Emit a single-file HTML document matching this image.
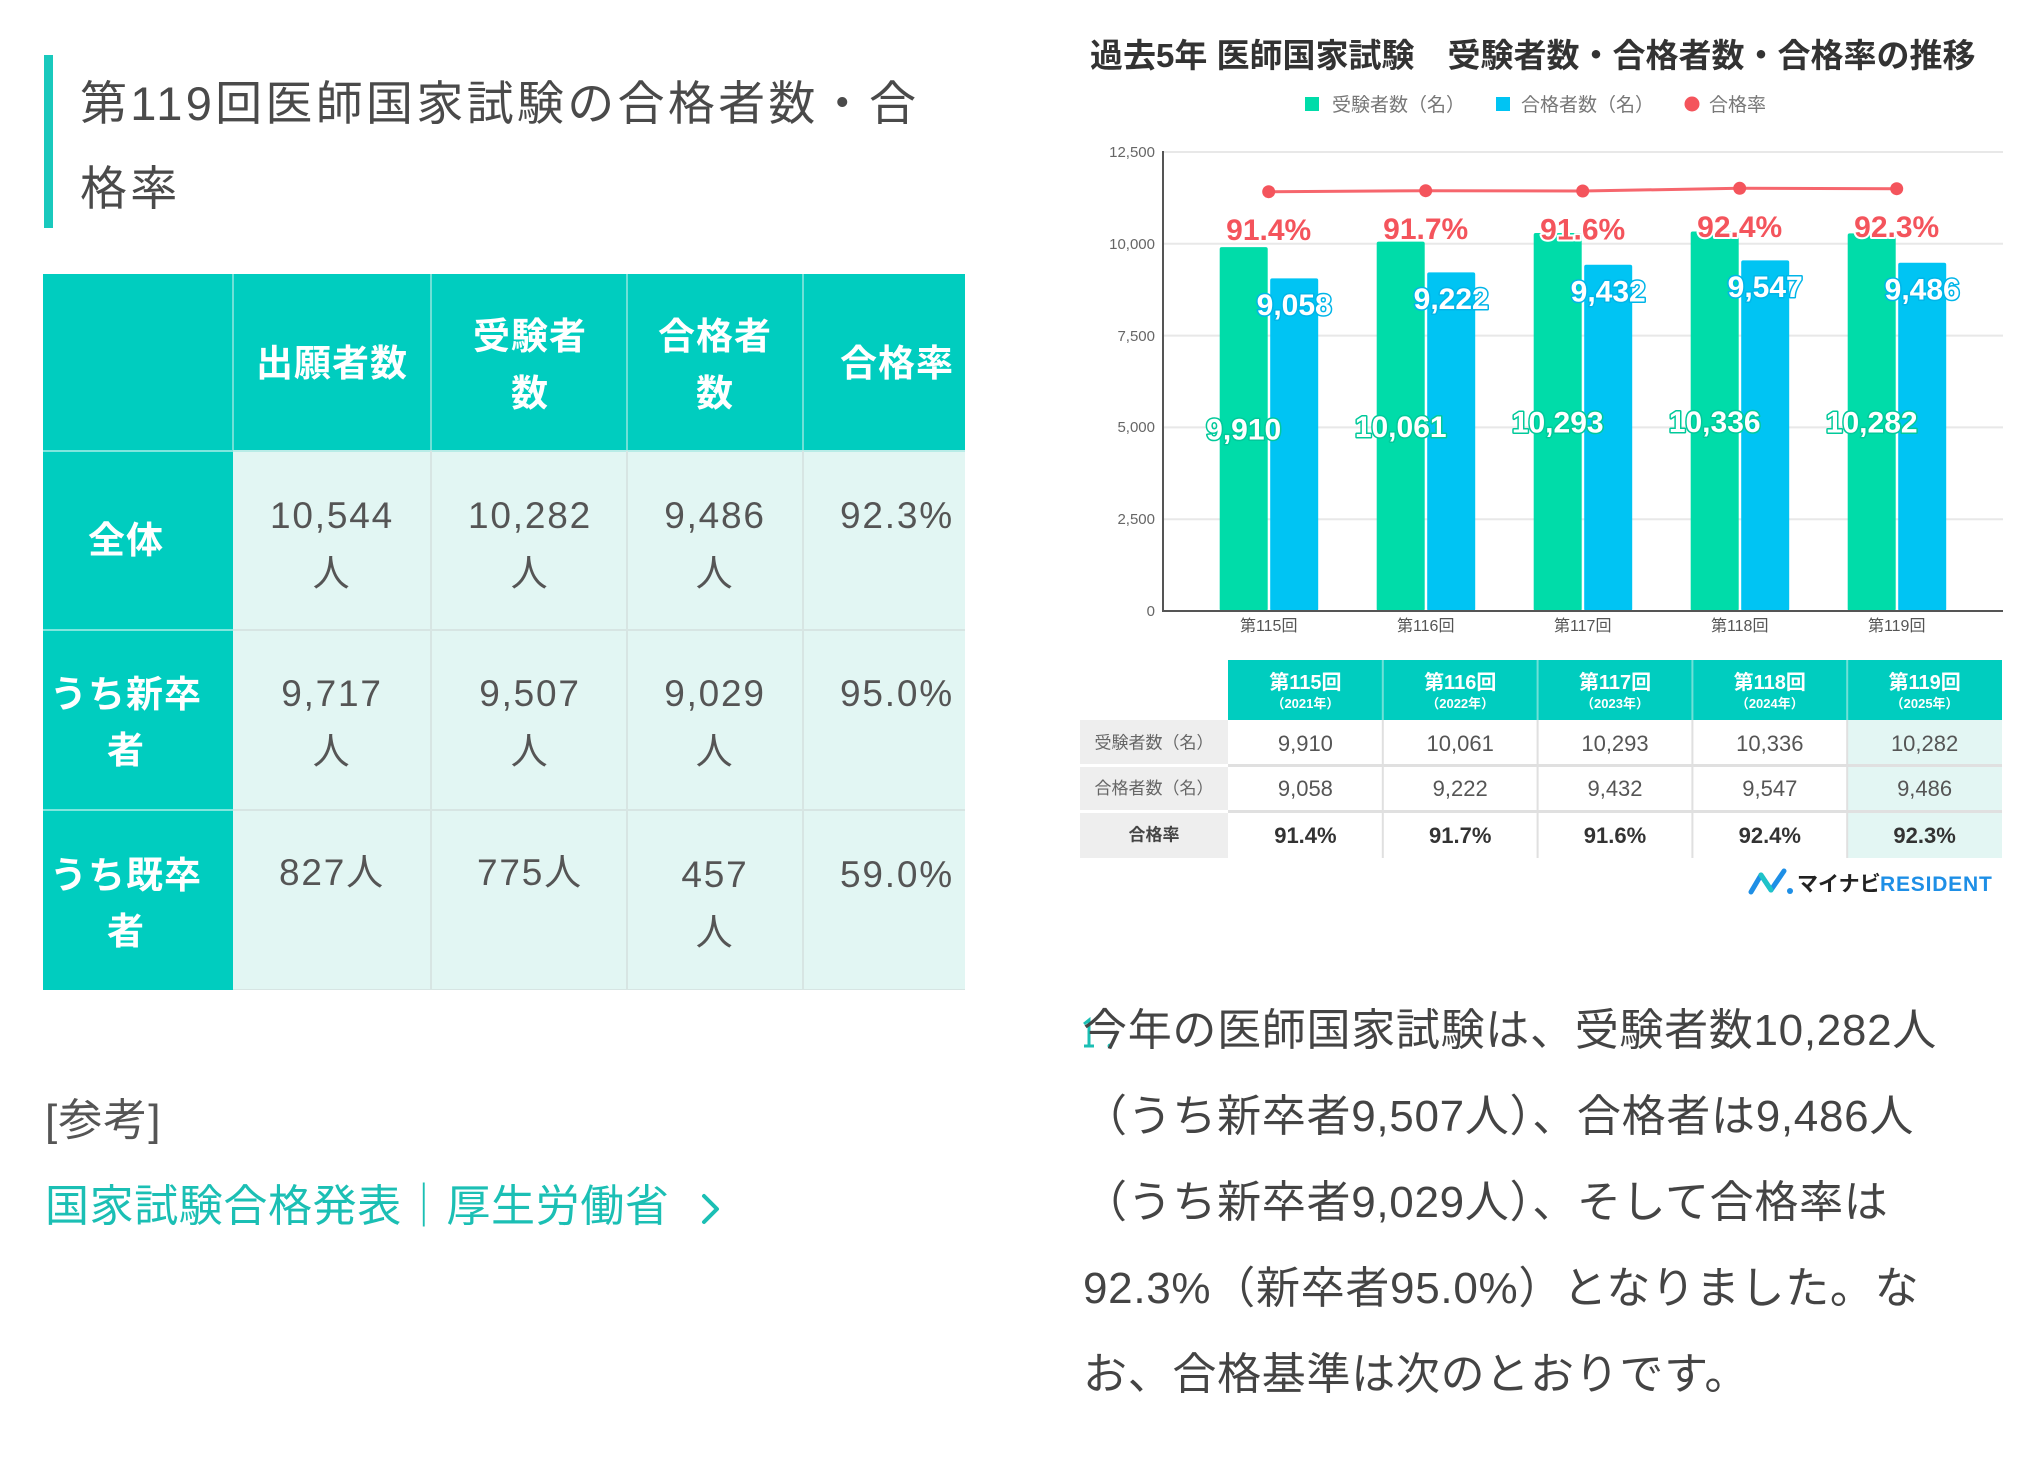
<!DOCTYPE html>
<html lang="ja">
<head>
<meta charset="utf-8">
<style>
html,body{margin:0;padding:0;background:#fff;}
body{width:2044px;height:1461px;position:relative;overflow:hidden;font-family:"Liberation Sans","Noto Sans CJK JP",sans-serif;}
.t{position:absolute;white-space:nowrap;line-height:1;}
.c{transform:translateX(-50%);}
.box{position:absolute;}
.hd{color:#fff;font-weight:bold;font-size:37px;letter-spacing:1px;}
.dt{color:#555;font-size:37px;letter-spacing:1.8px;}
.p{color:#444;font-size:44px;letter-spacing:0.7px;}
</style>
</head>
<body>

<!-- ===== Left heading ===== -->
<div class="box" style="left:44px;top:55px;width:9px;height:173px;background:#19C9BD;"></div>
<div class="t" style="left:80px;top:80px;font-size:47px;color:#4a4a4a;letter-spacing:3.3px;">第119回医師国家試験の合格者数・合</div>
<div class="t" style="left:80px;top:165px;font-size:47px;color:#4a4a4a;letter-spacing:3.3px;">格率</div>

<!-- ===== Left table ===== -->
<div class="box" style="left:43px;top:274px;width:922px;height:716px;overflow:hidden;">
  <div class="box" style="left:0;top:0;width:922px;height:177px;background:#00CDBF;"></div>
  <div class="box" style="left:0;top:177px;width:190px;height:539px;background:#00CDBF;"></div>
  <div class="box" style="left:190px;top:177px;width:732px;height:539px;background:#E2F6F3;"></div>
  <!-- header vertical separators -->
  <div class="box" style="left:189px;top:0;width:2px;height:177px;background:#6FE0D7;"></div>
  <div class="box" style="left:387px;top:0;width:2px;height:177px;background:#6FE0D7;"></div>
  <div class="box" style="left:583px;top:0;width:2px;height:177px;background:#6FE0D7;"></div>
  <div class="box" style="left:759px;top:0;width:2px;height:177px;background:#6FE0D7;"></div>
  <!-- header bottom line -->
  <div class="box" style="left:0;top:176px;width:190px;height:2px;background:#7FE6DE;"></div>
  <div class="box" style="left:190px;top:176px;width:732px;height:2px;background:#B8ECE7;"></div>
  <!-- left column row separators -->
  <div class="box" style="left:0;top:355px;width:190px;height:2px;background:#7FE6DE;"></div>
  <div class="box" style="left:0;top:535px;width:190px;height:2px;background:#7FE6DE;"></div>
  <!-- data separators -->
  <div class="box" style="left:190px;top:355px;width:732px;height:2px;background:#D7E5E3;"></div>
  <div class="box" style="left:190px;top:535px;width:732px;height:2px;background:#D7E5E3;"></div>
  <div class="box" style="left:190px;top:715px;width:732px;height:1px;background:#D7E5E3;"></div>
  <div class="box" style="left:387px;top:177px;width:2px;height:539px;background:#D7E5E3;"></div>
  <div class="box" style="left:583px;top:177px;width:2px;height:539px;background:#D7E5E3;"></div>
  <div class="box" style="left:759px;top:177px;width:2px;height:539px;background:#D7E5E3;"></div>
</div>

<!-- header texts -->
<div class="t c hd" style="left:332px;top:345px;">出願者数</div>
<div class="t c hd" style="left:530px;top:318px;">受験者</div>
<div class="t c hd" style="left:530px;top:375px;">数</div>
<div class="t c hd" style="left:715px;top:318px;">合格者</div>
<div class="t c hd" style="left:715px;top:375px;">数</div>
<div class="t c hd" style="left:897px;top:345px;">合格率</div>

<!-- row header texts -->
<div class="t c hd" style="left:126px;top:522px;">全体</div>
<div class="t c hd" style="left:126px;top:676px;">うち新卒</div>
<div class="t c hd" style="left:126px;top:732px;">者</div>
<div class="t c hd" style="left:126px;top:857px;">うち既卒</div>
<div class="t c hd" style="left:126px;top:913px;">者</div>

<!-- row 1 -->
<div class="t c dt" style="left:332px;top:497px;">10,544</div>
<div class="t c dt" style="left:332px;top:555px;">人</div>
<div class="t c dt" style="left:530px;top:497px;">10,282</div>
<div class="t c dt" style="left:530px;top:555px;">人</div>
<div class="t c dt" style="left:715px;top:497px;">9,486</div>
<div class="t c dt" style="left:715px;top:555px;">人</div>
<div class="t c dt" style="left:897px;top:497px;">92.3%</div>
<!-- row 2 -->
<div class="t c dt" style="left:332px;top:675px;">9,717</div>
<div class="t c dt" style="left:332px;top:733px;">人</div>
<div class="t c dt" style="left:530px;top:675px;">9,507</div>
<div class="t c dt" style="left:530px;top:733px;">人</div>
<div class="t c dt" style="left:715px;top:675px;">9,029</div>
<div class="t c dt" style="left:715px;top:733px;">人</div>
<div class="t c dt" style="left:897px;top:675px;">95.0%</div>
<!-- row 3 -->
<div class="t c dt" style="left:332px;top:854px;">827人</div>
<div class="t c dt" style="left:530px;top:854px;">775人</div>
<div class="t c dt" style="left:715px;top:856px;">457</div>
<div class="t c dt" style="left:715px;top:914px;">人</div>
<div class="t c dt" style="left:897px;top:856px;">59.0%</div>

<!-- reference + link -->
<div class="t" style="left:45px;top:1099px;font-size:44px;color:#555;letter-spacing:1px;">[参考]</div>
<div class="t" style="left:45px;top:1185px;font-size:44px;color:#1BBFB4;letter-spacing:0.6px;">国家試験合格発表｜厚生労働省</div>
<svg class="box" style="left:697px;top:1192px;" width="30" height="36" viewBox="0 0 30 36">
  <polyline points="7,4 20,17 7,30" fill="none" stroke="#1BBFB4" stroke-width="4" stroke-linecap="round" stroke-linejoin="round"/>
</svg>

<!-- ===== Chart ===== -->
<div class="t" style="left:1090px;top:39px;font-size:33px;font-weight:bold;color:#333;">過去5年 医師国家試験　受験者数・合格者数・合格率の推移</div>

<svg class="box" style="left:0;top:0;" width="2044" height="900" viewBox="0 0 2044 900" font-family="Liberation Sans, Noto Sans CJK JP, sans-serif">
  <!-- legend -->
  <rect x="1305" y="97" width="14" height="14" fill="#00DCA9"/>
  <text x="1332" y="111" font-size="19" fill="#777">受験者数（名）</text>
  <rect x="1496" y="97" width="14" height="14" fill="#00C4F3"/>
  <text x="1521" y="111" font-size="19" fill="#777">合格者数（名）</text>
  <circle cx="1692" cy="104" r="7.5" fill="#F4545C"/>
  <text x="1709" y="111" font-size="19" fill="#777">合格率</text>

  <!-- gridlines -->
  <g stroke="#E8E8E8" stroke-width="2">
    <line x1="1163" y1="152" x2="2003" y2="152"/>
    <line x1="1163" y1="243.8" x2="2003" y2="243.8"/>
    <line x1="1163" y1="335.6" x2="2003" y2="335.6"/>
    <line x1="1163" y1="427.4" x2="2003" y2="427.4"/>
    <line x1="1163" y1="519.2" x2="2003" y2="519.2"/>
  </g>
  <!-- y labels -->
  <g font-size="15" fill="#666" text-anchor="end">
    <text x="1155" y="157">12,500</text>
    <text x="1155" y="249">10,000</text>
    <text x="1155" y="341">7,500</text>
    <text x="1155" y="432">5,000</text>
    <text x="1155" y="524">2,500</text>
    <text x="1155" y="616">0</text>
  </g>

  <!-- bars -->
  <g fill="#00DCA9">
    <rect x="1219.7" y="247.1" width="48" height="363.9" rx="2"/>
    <rect x="1376.7" y="241.6" width="48" height="369.4" rx="2"/>
    <rect x="1533.7" y="233.0" width="48" height="378" rx="2"/>
    <rect x="1690.7" y="231.5" width="48" height="379.5" rx="2"/>
    <rect x="1847.7" y="233.4" width="48" height="377.6" rx="2"/>
  </g>
  <g fill="#00C4F3">
    <rect x="1270.2" y="278.4" width="48" height="332.6" rx="2"/>
    <rect x="1427.2" y="272.4" width="48" height="338.6" rx="2"/>
    <rect x="1584.2" y="264.7" width="48" height="346.3" rx="2"/>
    <rect x="1741.2" y="260.4" width="48" height="350.6" rx="2"/>
    <rect x="1898.2" y="262.7" width="48" height="348.3" rx="2"/>
  </g>

  <!-- axes -->
  <line x1="1163" y1="151" x2="1163" y2="612" stroke="#555" stroke-width="2"/>
  <line x1="1162" y1="611" x2="2003" y2="611" stroke="#555" stroke-width="2"/>

  <!-- x labels -->
  <g font-size="16" fill="#555" text-anchor="middle">
    <text x="1268.7" y="631">第115回</text>
    <text x="1425.7" y="631">第116回</text>
    <text x="1582.7" y="631">第117回</text>
    <text x="1739.7" y="631">第118回</text>
    <text x="1896.7" y="631">第119回</text>
  </g>

  <!-- rate line -->
  <polyline points="1268.7,191.7 1425.7,190.7 1582.7,191 1739.7,188.3 1896.7,188.7" fill="none" stroke="#F6666D" stroke-width="3"/>
  <g fill="#F4545C">
    <circle cx="1268.7" cy="191.7" r="6.5"/>
    <circle cx="1425.7" cy="190.7" r="6.5"/>
    <circle cx="1582.7" cy="191" r="6.5"/>
    <circle cx="1739.7" cy="188.3" r="6.5"/>
    <circle cx="1896.7" cy="188.7" r="6.5"/>
  </g>

  <!-- rate labels -->
  <g font-size="30" font-weight="bold" fill="#F4545C" stroke="#fff" stroke-width="4" paint-order="stroke" text-anchor="middle" stroke-linejoin="round">
    <text x="1268.7" y="240.2">91.4%</text>
    <text x="1425.7" y="239.2">91.7%</text>
    <text x="1582.7" y="239.5">91.6%</text>
    <text x="1739.7" y="236.8">92.4%</text>
    <text x="1896.7" y="237.2">92.3%</text>
  </g>

  <!-- blue labels -->
  <g font-size="30" font-weight="bold" fill="#fff" stroke="#00B5E8" stroke-width="3" paint-order="stroke" text-anchor="middle" stroke-linejoin="round">
    <text x="1294.2" y="315">9,058</text>
    <text x="1451.2" y="309">9,222</text>
    <text x="1608.2" y="301.3">9,432</text>
    <text x="1765.2" y="297">9,547</text>
    <text x="1922.2" y="299.3">9,486</text>
  </g>
  <!-- green labels -->
  <g font-size="30" font-weight="bold" fill="#fff" stroke="#00C99A" stroke-width="3" paint-order="stroke" text-anchor="middle" stroke-linejoin="round">
    <text x="1243.7" y="439.5">9,910</text>
    <text x="1400.7" y="436.8">10,061</text>
    <text x="1557.7" y="432.5">10,293</text>
    <text x="1714.7" y="431.8">10,336</text>
    <text x="1871.7" y="432.7">10,282</text>
  </g>

  <!-- ===== data table under chart ===== -->
  <rect x="1228" y="660" width="774" height="60" fill="#00CDBF"/>
  <g fill="#6FE0D7">
    <rect x="1381.8" y="660" width="2" height="60"/>
    <rect x="1536.6" y="660" width="2" height="60"/>
    <rect x="1691.4" y="660" width="2" height="60"/>
    <rect x="1846.2" y="660" width="2" height="60"/>
  </g>
  <g fill="#EEEEEE">
    <rect x="1080" y="720" width="148" height="44"/>
    <rect x="1080" y="767" width="148" height="43"/>
    <rect x="1080" y="813" width="148" height="45"/>
  </g>
  <rect x="1847.2" y="720" width="154.8" height="138" fill="#E3F6F3"/>
  <g fill="#E0E0E0">
    <rect x="1228" y="764" width="774" height="3"/>
    <rect x="1228" y="810" width="774" height="3"/>
    <rect x="1381.8" y="720" width="2" height="138"/>
    <rect x="1536.6" y="720" width="2" height="138"/>
    <rect x="1691.4" y="720" width="2" height="138"/>
    <rect x="1846.2" y="720" width="2" height="138"/>
  </g>
  <g fill="#fff" font-weight="bold" text-anchor="middle">
    <text x="1305.4" y="689" font-size="20">第115回</text>
    <text x="1460.2" y="689" font-size="20">第116回</text>
    <text x="1615" y="689" font-size="20">第117回</text>
    <text x="1769.8" y="689" font-size="20">第118回</text>
    <text x="1924.6" y="689" font-size="20">第119回</text>
    <text x="1305.4" y="708" font-size="13">（2021年）</text>
    <text x="1460.2" y="708" font-size="13">（2022年）</text>
    <text x="1615" y="708" font-size="13">（2023年）</text>
    <text x="1769.8" y="708" font-size="13">（2024年）</text>
    <text x="1924.6" y="708" font-size="13">（2025年）</text>
  </g>
  <g fill="#666" font-size="17" text-anchor="middle">
    <text x="1154" y="748.5">受験者数（名）</text>
    <text x="1154" y="794">合格者数（名）</text>
  </g>
  <text x="1154" y="840.5" fill="#444" font-size="17" font-weight="bold" text-anchor="middle">合格率</text>
  <g fill="#555" font-size="22" text-anchor="middle">
    <text x="1305.4" y="751">9,910</text>
    <text x="1460.2" y="751">10,061</text>
    <text x="1615" y="751">10,293</text>
    <text x="1769.8" y="751">10,336</text>
    <text x="1924.6" y="751">10,282</text>
    <text x="1305.4" y="796">9,058</text>
    <text x="1460.2" y="796">9,222</text>
    <text x="1615" y="796">9,432</text>
    <text x="1769.8" y="796">9,547</text>
    <text x="1924.6" y="796">9,486</text>
  </g>
  <g fill="#333" font-size="22" font-weight="bold" text-anchor="middle">
    <text x="1305.4" y="843">91.4%</text>
    <text x="1460.2" y="843">91.7%</text>
    <text x="1615" y="843">91.6%</text>
    <text x="1769.8" y="843">92.4%</text>
    <text x="1924.6" y="843">92.3%</text>
  </g>

  <!-- logo -->
  <g transform="translate(-8,-5)">
    <polyline points="1759,897 1769,880 1779,895 1792,876" fill="none" stroke="#1E8FE6" stroke-width="5" stroke-linejoin="round" stroke-linecap="round"/>
    <polyline points="1769,880 1779,895" fill="none" stroke="#1FC3C8" stroke-width="5" stroke-linecap="round"/>
    <circle cx="1798" cy="896" r="3" fill="#1E8FE6"/>
    <text x="1805" y="896" font-size="21" font-weight="bold" fill="#222">マイナビ</text>
    <text x="1888" y="896" font-size="21" font-weight="bold" fill="#1E8FE6" letter-spacing="0.8">RESIDENT</text>
  </g>
</svg>

<!-- ===== Paragraph ===== -->
<svg class="box" style="left:1080px;top:1014px;" width="40" height="40" viewBox="0 0 40 40">
  <path d="M4,10 L9,6 L9,32 M4,32 L14,32" fill="none" stroke="#1BBFB4" stroke-width="3"/>
  <circle cx="30" cy="32" r="2.5" fill="#1BBFB4"/>
</svg>
<div class="t p" style="left:1083px;top:1009px;">今年の医師国家試験は、受験者数10,282人</div>
<div class="t p" style="left:1083px;top:1095px;">（うち新卒者9,507人）、合格者は9,486人</div>
<div class="t p" style="left:1083px;top:1181px;">（うち新卒者9,029人）、そして合格率は</div>
<div class="t p" style="left:1083px;top:1267px;">92.3%（新卒者95.0%）となりました。な</div>
<div class="t p" style="left:1083px;top:1353px;">お、合格基準は次のとおりです。</div>

</body>
</html>
